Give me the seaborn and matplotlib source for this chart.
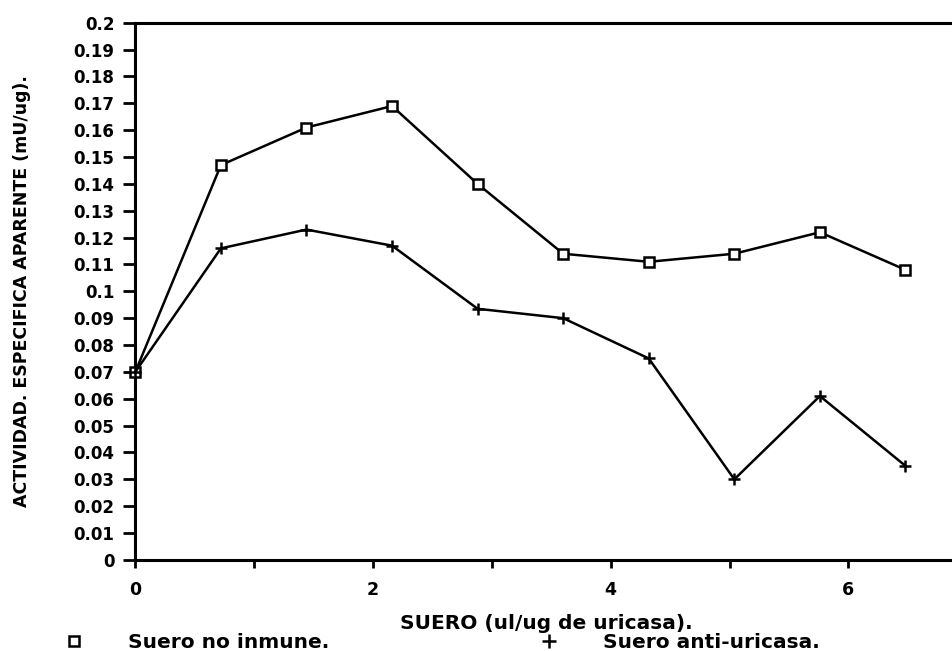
import numpy as np
import pandas as pd
import matplotlib
matplotlib.use("Agg")
import matplotlib.pyplot as plt
import seaborn as sns
from matplotlib.lines import Line2D

# data
suero = [0.0, 0.72, 1.44, 2.16, 2.88, 3.60, 4.32, 5.04, 5.76, 6.48]
no_inmune = [0.070, 0.147, 0.161, 0.169, 0.140, 0.114, 0.111, 0.114, 0.122, 0.108]
anti_uricasa = [0.070, 0.116, 0.123, 0.117, 0.0935, 0.090, 0.075, 0.030, 0.061, 0.035]

x_ticks = [0, 1, 2, 3, 4, 5, 6]
x_labels = ["0", "", "2", "", "4", "", "6"]
y_ticks = [round(0.01 * i, 2) for i in range(21)]
y_labels = ["0", "0.01", "0.02", "0.03", "0.04", "0.05", "0.06", "0.07", "0.08", "0.09",
            "0.1", "0.11", "0.12", "0.13", "0.14", "0.15", "0.16", "0.17", "0.18", "0.19", "0.2"]

sns.set_style("ticks")
plt.rcParams["font.family"] = ["DejaVu Sans"]
plt.rcParams["font.weight"] = "bold"
plt.rcParams["text.color"] = "black"
plt.rcParams["axes.labelcolor"] = "black"

df = pd.DataFrame({"suero": suero, "no_inmune": no_inmune, "anti": anti_uricasa})

fig = plt.figure(figsize=(9.53, 6.51), dpi=100)
ax = fig.add_axes([0.142, 0.14, 0.858, 0.825])

sns.lineplot(data=df, x="suero", y="no_inmune", ax=ax, color="black", lw=1.8,
             marker="s", markersize=7.5, markerfacecolor="white",
             markeredgecolor="black", markeredgewidth=1.8, clip_on=False, zorder=3)
sns.lineplot(data=df, x="suero", y="anti", ax=ax, color="black", lw=1.8,
             marker="+", markersize=9, markeredgecolor="black",
             markeredgewidth=1.8, clip_on=False, zorder=3)

ax.set_xlim(0, 6.88)
ax.set_ylim(0, 0.2)
ax.set_xticks(x_ticks)
ax.set_xticklabels(x_labels, fontsize=12.5, fontweight="bold")
ax.set_yticks(y_ticks)
ax.set_yticklabels(y_labels, fontsize=12, fontweight="bold")
ax.tick_params(axis="x", length=6, width=2, pad=9, colors="black")
ax.tick_params(axis="y", length=9, width=2, pad=6, colors="black")

for side in ["left", "bottom", "top"]:
    ax.spines[side].set_linewidth(2.2)
    ax.spines[side].set_color("black")
ax.spines["right"].set_visible(False)

ax.set_xlabel("")
ax.set_ylabel("ACTIVIDAD. ESPECIFICA APARENTE (mU/ug).", fontsize=12.5,
              fontweight="bold")
ax.yaxis.set_label_coords(-0.127, 0.5)

fig.text(0.573, 0.043, "SUERO (ul/ug de uricasa).", ha="center", va="center",
         fontsize=14.5, fontweight="bold")

handles = [
    Line2D([], [], ls="none", marker="s", markersize=7, markerfacecolor="white",
           markeredgecolor="black", markeredgewidth=1.8),
    Line2D([], [], ls="none", marker="+", markersize=10, color="black",
           markeredgewidth=1.8),
]
fig.legend(handles, ["Suero no inmune.", "Suero anti-uricasa."],
           loc="center left", bbox_to_anchor=(0.048, 0.013), ncol=2,
           frameon=False, handlelength=1.0, handletextpad=2.2,
           columnspacing=10.4, prop={"size": 14.5, "weight": "bold"})

fig.savefig("out.png", dpi=100)
